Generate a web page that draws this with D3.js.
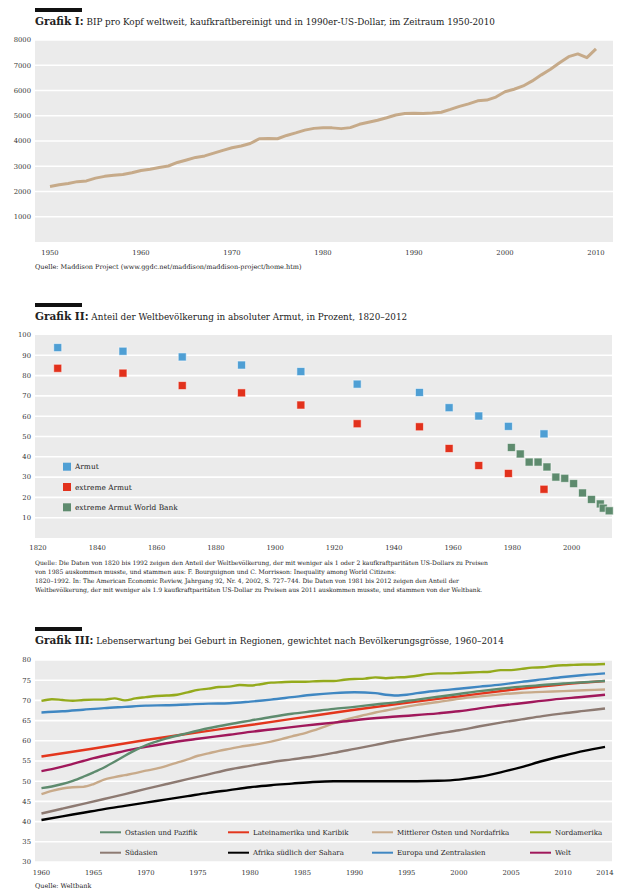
<!DOCTYPE html>
<html><head><meta charset="utf-8">
<script src="https://cdn.jsdelivr.net/npm/d3@7"></script>
<style>
body{margin:0;background:#fff;}
svg{display:block;font-family:"DejaVu Serif",serif;}
</style></head>
<body>
<svg id="c" width="620" height="894"></svg>
<script>
// ---------- DATA ----------
// Grafik I
const gdpYears = d3.range(1950, 2011);
const gdpValues = [2200,2270,2320,2390,2420,2530,2600,2640,2670,2740,2830,2880,2950,3010,3150,3250,3350,3410,3520,3630,3730,3800,3900,4090,4100,4090,4220,4320,4430,4500,4520,4520,4490,4530,4660,4740,4820,4920,5030,5090,5100,5090,5110,5140,5250,5370,5470,5590,5620,5740,5950,6050,6180,6380,6620,6840,7100,7340,7450,7300,7650];
const gdpTicksY = [1000,2000,3000,4000,5000,6000,7000,8000];
const gdpTicksX = [1950,1960,1970,1980,1990,2000,2010];

// Grafik II
const povYears = [1828,1850,1870,1890,1910,1929,1950,1960,1970,1980,1992];
const povArmut = [93.8,92.0,89.2,85.2,82.0,75.8,71.7,64.2,60.1,55.0,51.3];
const povExtrem = [83.6,81.2,75.1,71.5,65.5,56.3,54.8,44.1,35.7,31.8,24.0];
const wbYears = [1981,1984,1987,1990,1993,1996,1999,2002,2005,2008,2011,2012,2014];
const wbExtrem = [44.6,41.4,37.4,37.4,35.0,30.0,29.4,26.8,22.2,19.0,16.8,14.7,13.4];
const povTicksY = [10,20,30,40,50,60,70,80,90,100];
const povTicksX = [1820,1840,1860,1880,1900,1920,1940,1960,1980,2000];
const povLegend = ["Armut","extreme Armut","extreme Armut World Bank"];

// Grafik III
const leNames = ["Ostasien und Pazifik","Lateinamerika und Karibik","Mittlerer Osten und Nordafrika","Nordamerika","Südasien","Afrika südlich der Sahara","Europa und Zentralasien","Welt"];
const leColors = ["#5e8b6e","#e3361d","#c8aa8a","#94aa1c","#8d7a72","#000000","#3f87c2","#a0185b"];
const eapYears = [1960,1961,1962,1963,1964,1965,1966,1967,1968,1969,1970,1971,1972,1974,1976,1978,1980,1982,1984,1986,1988,1990,1992,1994,1996,1998,2000,2002,2004,2006,2008,2010,2012,2014];
const eapValues = [48.3,48.7,49.3,50.1,51.1,52.2,53.4,54.8,56.3,57.7,58.9,59.8,60.6,61.9,63.1,64.1,65.0,65.9,66.7,67.3,67.9,68.4,69.0,69.5,70.2,70.9,71.6,72.3,72.9,73.4,73.8,74.2,74.5,74.8];
const lacYears = [1960,1965,1970,1975,1980,1985,1990,1995,2000,2005,2010,2014];
const lacValues = [56.1,58.1,60.2,62.1,63.9,65.8,67.7,69.4,71.0,72.6,74.0,74.8];
const menaYears = [1960,1961,1962,1963,1964,1965,1966,1967,1968,1969,1970,1971,1972,1973,1974,1975,1976,1977,1978,1979,1980,1981,1982,1983,1984,1985,1986,1987,1988,1989,1990,1991,1992,1993,1994,1996,1998,2000,2002,2004,2006,2008,2010,2012,2014];
const menaValues = [46.8,47.6,48.2,48.5,48.6,49.3,50.4,51.0,51.5,52.0,52.6,53.1,53.8,54.6,55.4,56.3,56.9,57.5,58.0,58.5,58.9,59.3,59.8,60.4,61.1,61.7,62.5,63.4,64.3,65.1,65.8,66.4,67.0,67.5,68.0,68.9,69.6,70.4,71.0,71.5,71.9,72.1,72.3,72.5,72.7];
const naYears = d3.range(1960, 2015);
const naValues = [69.9,70.3,70.1,69.9,70.1,70.2,70.2,70.5,70.0,70.5,70.8,71.1,71.2,71.4,72.0,72.6,72.9,73.3,73.4,73.8,73.7,74.0,74.4,74.5,74.6,74.6,74.7,74.8,74.8,75.1,75.3,75.4,75.7,75.5,75.7,75.8,76.1,76.5,76.7,76.7,76.8,76.9,77.0,77.1,77.5,77.5,77.8,78.1,78.2,78.5,78.7,78.8,78.9,78.9,79.0];
const sasYears = [1960,1962,1964,1966,1968,1970,1972,1974,1976,1978,1980,1982,1984,1986,1988,1990,1992,1994,1996,1998,2000,2002,2004,2006,2008,2010,2012,2014];
const sasValues = [42.0,43.2,44.4,45.6,46.8,48.1,49.3,50.5,51.7,52.9,53.8,54.7,55.4,56.1,57.0,58.0,59.0,60.0,60.9,61.8,62.6,63.6,64.5,65.3,66.1,66.8,67.4,68.0];
const ssaYears = [1960,1962,1964,1966,1968,1970,1972,1974,1976,1978,1980,1982,1984,1986,1988,1990,1992,1994,1996,1998,2000,2002,2004,2006,2008,2010,2012,2014];
const ssaValues = [40.4,41.3,42.2,43.1,43.9,44.7,45.5,46.3,47.1,47.8,48.5,49.0,49.4,49.8,50.0,50.0,50.0,50.0,50.0,50.1,50.4,51.1,52.2,53.5,55.0,56.3,57.5,58.5];
const ecaYears = [1960,1962,1964,1966,1968,1970,1972,1974,1976,1978,1980,1982,1984,1986,1988,1990,1992,1993,1994,1995,1996,1998,2000,2002,2004,2006,2008,2010,2012,2014];
const ecaValues = [67.0,67.3,67.7,68.1,68.4,68.7,68.8,69.0,69.2,69.3,69.7,70.2,70.8,71.4,71.8,72.0,71.8,71.4,71.2,71.4,71.8,72.4,72.9,73.4,73.9,74.6,75.2,75.8,76.3,76.7];
const wldYears = [1960,1961,1962,1963,1964,1965,1966,1967,1968,1970,1972,1975,1978,1980,1982,1985,1988,1990,1994,1998,2000,2003,2006,2009,2012,2014];
const wldValues = [52.5,53.0,53.6,54.3,55.0,55.7,56.3,56.9,57.5,58.5,59.4,60.5,61.5,62.2,62.8,63.7,64.5,65.1,66.0,66.8,67.3,68.4,69.3,70.2,70.9,71.4];
const leTicksY = [30,35,40,45,50,55,60,65,70,75,80];
const leTicksX = [1960,1965,1970,1975,1980,1985,1990,1995,2000,2005,2010,2014];

// ---------- DRAW ----------
const svg = d3.select("#c");
const BG = "#ebebeb";

function header(y, bold, rest){
  svg.append("rect").attr("x",35).attr("y",y).attr("width",47).attr("height",4).attr("fill","#111");
  const t = svg.append("text").attr("x",35).attr("y",y+17).attr("fill","#222");
  t.append("tspan").attr("font-weight","bold").attr("font-size",10.5).text(bold);
  t.append("tspan").attr("font-size",8.8).text(" "+rest);
}
function panel(x, y, yTicks, x0, x1, ybot, ytop, yFmt){
  svg.append("rect").attr("x",x0).attr("y",ytop).attr("width",x1-x0).attr("height",ybot-ytop).attr("fill",BG);
  const g = svg.append("g");
  g.selectAll("line").data(yTicks).join("line")
    .attr("x1",x0).attr("x2",x1).attr("y1",d=>y(d)).attr("y2",d=>y(d))
    .attr("stroke","#fff").attr("stroke-width",1.6);
  g.selectAll("text").data(yTicks).join("text")
    .attr("x",31).attr("y",d=>y(d)).attr("dy","0.35em").attr("text-anchor","end")
    .attr("font-size",6.8).attr("fill","#333").text(yFmt||(d=>d));
}
function xLabels(x, ticks, ly, dx){
  svg.append("g").selectAll("text").data(ticks).join("text")
    .attr("x",d=>x(d)+(dx||0)).attr("y",ly).attr("dy","0.35em").attr("text-anchor","middle")
    .attr("font-size",6.8).attr("fill","#333").text(d=>d);
}

// Grafik I
header(8, "Grafik I:", "BIP pro Kopf weltweit, kaufkraftbereinigt und in 1990er-US-Dollar, im Zeitraum 1950-2010");
const x1s = d3.scaleLinear().domain([1948.35, 2011.87]).range([35, 613]);
const y1s = d3.scaleLinear().domain([0, 8000]).range([242, 40]);
panel(x1s, y1s, gdpTicksY, 35, 613, 242, 40);
svg.append("path").datum(gdpYears.map((yr,i)=>[yr,gdpValues[i]]))
  .attr("fill","none").attr("stroke","#c6aa89").attr("stroke-width",3).attr("stroke-linejoin","round")
  .attr("d", d3.line().x(d=>x1s(d[0])).y(d=>y1s(d[1])));
xLabels(x1s, gdpTicksX, 253);
svg.append("text").attr("x",35).attr("y",269).attr("font-size",6.5).attr("fill","#222")
  .text("Quelle: Maddison Project (www.ggdc.net/maddison/maddison-project/home.htm)");

// Grafik II
header(303, "Grafik II:", "Anteil der Weltbevölkerung in absoluter Armut, in Prozent, 1820–2012");
const x2s = d3.scaleLinear().domain([1820.34, 2014.94]).range([35, 612]);
const y2s = d3.scaleLinear().domain([0, 100]).range([538, 335]);
panel(x2s, y2s, povTicksY.filter(d=>d<100), 35, 612, 538, 335);
svg.append("text").attr("x",31).attr("y",y2s(100)).attr("dy","0.35em").attr("text-anchor","end")
  .attr("font-size",6.8).attr("fill","#333").text(100);
const sq = 8;
function squares(years, vals, col){
  svg.append("g").selectAll("rect").data(years.map((yr,i)=>[yr,vals[i]])).join("rect")
    .attr("x",d=>x2s(d[0])-sq/2).attr("y",d=>y2s(d[1])-sq/2).attr("width",sq).attr("height",sq)
    .attr("fill",col).attr("stroke","#fff").attr("stroke-opacity",0.55).attr("stroke-width",1);
}
const povColors = ["#4f9fd4","#e2311c","#5e8b6e"];
squares(povYears, povArmut, povColors[0]);
squares(povYears, povExtrem, povColors[1]);
squares(wbYears, wbExtrem, povColors[2]);
const lg2 = svg.append("g").selectAll("g").data(povLegend).join("g")
  .attr("transform",(d,i)=>`translate(63,${466.7+i*20.3})`);
lg2.append("rect").attr("x",0).attr("y",-4).attr("width",sq).attr("height",sq).attr("fill",(d,i)=>povColors[i]);
lg2.append("text").attr("x",12).attr("dy","0.35em").attr("font-size",7.4).attr("fill","#222").text(d=>d);
xLabels(x2s, povTicksX, 548, 4);
const src2 = [
 "Quelle: Die Daten von 1820 bis 1992 zeigen den Anteil der Weltbevölkerung, der mit weniger als 1 oder 2 kaufkraftparitäten US-Dollars zu Preisen",
 "von 1985 auskommen musste, und stammen aus:  F. Bourguignon und C. Morrisson: Inequality among World Citizens:",
 "1820–1992. In: The American Economic Review, Jahrgang 92, Nr. 4, 2002, S. 727–744. Die Daten von 1981 bis 2012 zeigen den Anteil der",
 "Weltbevölkerung, der mit weniger als 1.9 kaufkraftparitäten US-Dollar zu Preisen aus 2011 auskommen musste, und stammen von der Weltbank."];
svg.append("g").selectAll("text").data(src2).join("text")
  .attr("x",35).attr("y",(d,i)=>565+i*9).attr("font-size",6.05).attr("fill","#222").text(d=>d);

// Grafik III
header(627, "Grafik III:", "Lebenserwartung bei Geburt in Regionen, gewichtet nach Bevölkerungsgrösse, 1960–2014");
const x3s = d3.scaleLinear().domain([1959.38, 2014.67]).range([35, 612]);
const y3s = d3.scaleLinear().domain([30, 80]).range([862, 660]);
panel(x3s, y3s, leTicksY, 35, 612, 862, 660);
const leSeries = [
  [eapYears,eapValues],[lacYears,lacValues],[menaYears,menaValues],[naYears,naValues],
  [sasYears,sasValues],[ssaYears,ssaValues],[ecaYears,ecaValues],[wldYears,wldValues]];
const drawOrder = [5,4,2,7,1,0,6,3];
const line3 = d3.line().curve(d3.curveMonotoneX).x(d=>x3s(d[0])).y(d=>y3s(d[1]));
drawOrder.forEach(k=>{
  const [ys,vs] = leSeries[k];
  svg.append("path").datum(ys.map((yr,i)=>[yr,vs[i]]))
    .attr("fill","none").attr("stroke",leColors[k]).attr("stroke-width",2.4)
    .attr("stroke-linejoin","round").attr("d",line3);
});
const legCols = [100,228,372,530];
const legRows = [832.3,852.7];
const lg3 = svg.append("g").selectAll("g").data(leNames).join("g")
  .attr("transform",(d,i)=>`translate(${legCols[i%4]},${legRows[Math.floor(i/4)]})`);
lg3.append("line").attr("x1",0).attr("x2",21).attr("stroke",(d,i)=>leColors[i]).attr("stroke-width",2);
lg3.append("text").attr("x",25).attr("dy","0.35em").attr("font-size",7).attr("fill","#222").text(d=>d);
xLabels(x3s, leTicksX, 873);
svg.append("text").attr("x",35).attr("y",888).attr("font-size",6.5).attr("fill","#222").text("Quelle: Weltbank");
</script>
</body></html>
